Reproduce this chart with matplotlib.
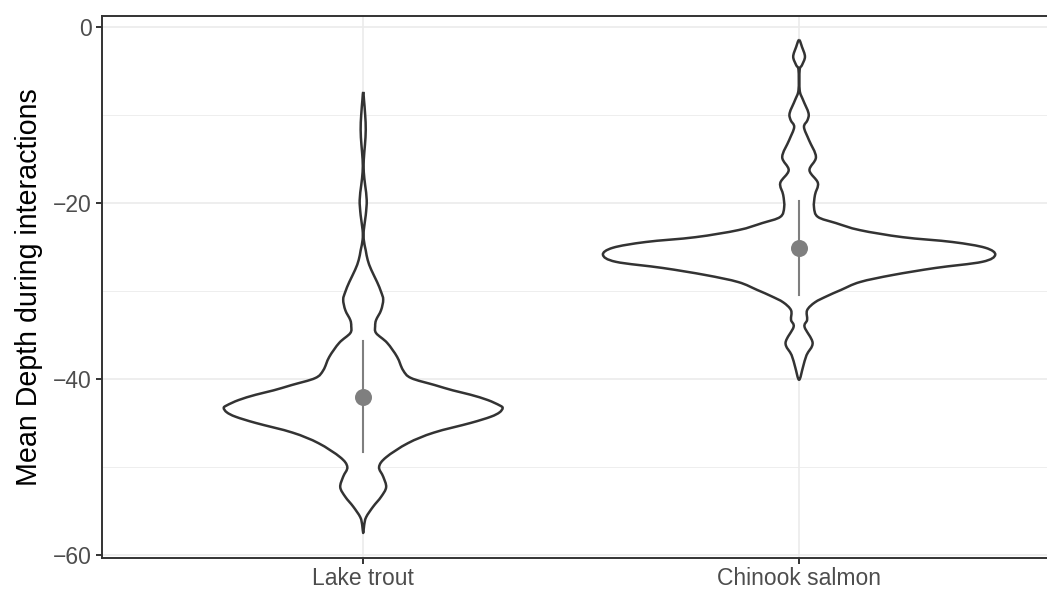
import matplotlib
matplotlib.use("Agg")
import matplotlib.pyplot as plt
import numpy as np
from matplotlib.path import Path
from matplotlib.patches import PathPatch

plt.rcParams["font.family"] = ["Liberation Sans", "DejaVu Sans"]

species = ["Lake trout", "Chinook salmon"]

# violin outlines: depth (m) and relative density (1 = widest violin)
trout_depth = [-7.4, -8.3, -10.0, -11.7, -13.4, -15.1, -16.5, -18.0, -19.7, -21.4,
               -23.1, -24.2, -25.4, -26.5, -27.6, -29.0, -30.1, -31.0, -32.2, -33.3,
               -34.0, -34.8, -35.9, -37.5, -39.0, -39.9, -40.7, -41.3, -41.8, -42.4,
               -43.0, -43.3, -43.8, -44.3, -45.0, -46.1, -47.3, -48.9, -50.0, -51.1,
               -52.3, -53.4, -54.5, -55.7, -56.6, -57.5]
trout_dens = [0.0, 0.004, 0.010, 0.013, 0.009, 0.003, 0.003, 0.010, 0.018, 0.013,
              0.003, 0.003, 0.013, 0.023, 0.041, 0.071, 0.091, 0.102, 0.091, 0.066,
              0.061, 0.066, 0.122, 0.173, 0.203, 0.244, 0.365, 0.457, 0.548, 0.635,
              0.695, 0.711, 0.695, 0.650, 0.548, 0.360, 0.228, 0.117, 0.081, 0.102,
              0.117, 0.091, 0.051, 0.015, 0.005, 0.0]

salmon_depth = [-1.5, -2.3, -3.4, -4.35, -4.9, -7.2, -8.3, -9.8, -10.6, -11.4,
                -12.9, -14.8, -16.3, -17.75, -19.1, -20.5, -21.6, -22.3, -23.1, -23.9,
                -24.45, -25.1, -25.9, -26.7, -27.4, -28.2, -29.0, -29.9, -30.6, -31.3,
                -32.2, -33.3, -34.1, -35.9, -37.3, -38.65, -40.1]
salmon_dens = [0.0, 0.015, 0.030, 0.015, 0.003, 0.003, 0.020, 0.048, 0.043, 0.025,
               0.051, 0.086, 0.053, 0.096, 0.081, 0.076, 0.096, 0.188, 0.310, 0.528,
               0.782, 0.949, 1.0, 0.934, 0.695, 0.477, 0.310, 0.213, 0.142, 0.081,
               0.041, 0.041, 0.028, 0.069, 0.038, 0.020, 0.0]

# mean +/- sd of depth per species
depth_mean = [-42.0, -25.1]
depth_sd = [6.35, 5.33]

outlines = [(trout_depth, trout_dens), (salmon_depth, salmon_dens)]


def smooth_closed_path(pts):
    # catmull-rom through the outline vertices, drawn as cubic bezier segments
    n = len(pts)
    verts = [pts[0]]
    codes = [Path.MOVETO]
    for k in range(n):
        p0, p1, p2, p3 = pts[k - 1], pts[k], pts[(k + 1) % n], pts[(k + 2) % n]
        verts += [p1 + (p2 - p0) / 6, p2 - (p3 - p1) / 6, p2]
        codes += [Path.CURVE4] * 3
    return Path(np.array(verts), codes)


fig = plt.figure(figsize=(10.47, 5.92), dpi=100)
ax = fig.add_axes([0.0971, 0.0579, 0.9159, 0.9155])

for i, (d, w) in enumerate(outlines):
    x0 = i + 1
    d = np.array(d)
    half = np.array(w) * 0.45
    # left side top->bottom, right side bottom->top, tips shared once
    xs = np.concatenate([x0 - half, (x0 + half)[::-1][1:-1]])
    ys = np.concatenate([d, d[::-1][1:-1]])
    pts = np.column_stack([xs, ys])
    patch = PathPatch(smooth_closed_path(pts), facecolor="white", edgecolor="#333333",
                      lw=1.8, joinstyle="round", zorder=3)
    ax.add_patch(patch)

xpos = np.arange(1, len(species) + 1)
for x0, m, s in zip(xpos, depth_mean, depth_sd):
    ax.plot([x0, x0], [m - s, m + s], color="#7f7f7f", lw=1.5, zorder=4)
ax.scatter(xpos, depth_mean, s=150, color="#7f7f7f", lw=0, zorder=5)

ax.set_xlim(0.4, 2.6)
ax.set_ylim(-60.31, 1.25)
ax.set_xticks(xpos)
ax.set_xticklabels(species)
ax.set_yticks([0, -20, -40, -60])
ax.set_yticklabels(["0", "\u221220", "\u221240", "\u221260"])
ax.set_yticks([-10, -30, -50], minor=True)

ax.grid(True, which="major", color="#ebebeb", lw=1.2, zorder=0)
ax.grid(True, which="minor", axis="y", color="#ebebeb", lw=0.6, zorder=0)
ax.set_axisbelow(True)

for sp in ax.spines.values():
    sp.set_color("#333333")
    sp.set_linewidth(1.4)

ax.tick_params(axis="both", which="major", length=4, width=1.4, color="#333333",
               labelsize=16.5, labelcolor="#4d4d4d", pad=3)
ax.tick_params(axis="y", which="minor", length=0)

ax.set_ylabel("Mean Depth during interactions", fontsize=20.6, color="black", labelpad=7)

fig.savefig("out.png", dpi=100)
